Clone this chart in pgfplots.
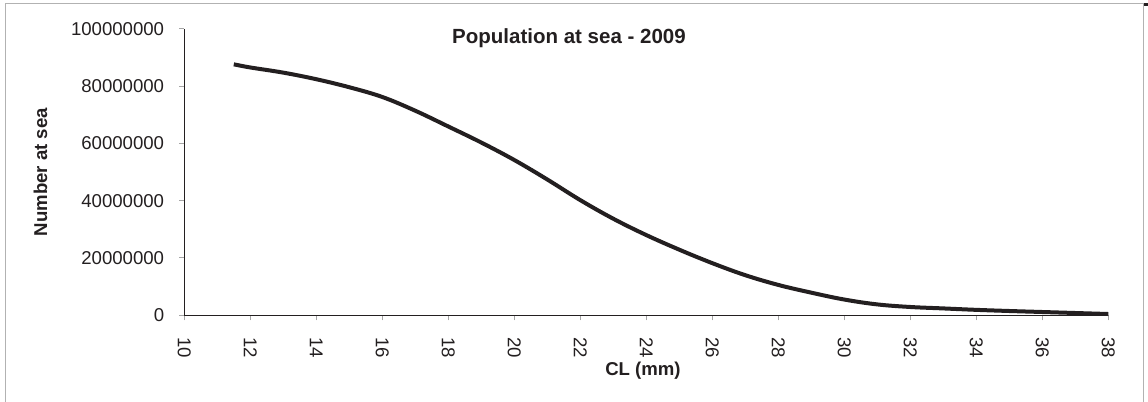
\documentclass[border=0pt]{standalone}
\usepackage{fontspec}
\setmainfont{Liberation Sans}
\usepackage{pgfplots}
\pgfplotsset{compat=1.18}
\definecolor{ink}{RGB}{35,31,32}
\definecolor{framegray}{RGB}{178,178,178}
\definecolor{tickgray}{RGB}{165,165,165}
\begin{document}
\begin{tikzpicture}
\useasboundingbox (0bp,0bp) rectangle (1148bp,402bp);
\draw[framegray, line width=1.2bp] (5.7bp,-5bp) -- (5.7bp,398.7bp) -- (1143.3bp,398.7bp) -- (1143.3bp,-5bp);
\fill[ink] (1144bp,396bp) rectangle (1148bp,398.7bp);
\begin{axis}[
  at={(184.3bp,86.7bp)}, anchor=south west,
  scale only axis, width=924bp, height=286.5bp,
  xmin=10, xmax=38, ymin=0, ymax=100000000,
  axis lines*=left,
  axis line style={ink, line width=1bp},
  xtick={10,12,...,38},
  ytick={0,20000000,40000000,60000000,80000000,100000000},
  scaled y ticks=false,
  tick align=outside,
  major tick length=5bp,
  tick style={tickgray, line width=1bp},
  /pgf/number format/assume math mode=true,
  ticklabel style={font=\fontsize{18.6bp}{22bp}\selectfont, text=ink},
  xticklabel style={rotate=-90, anchor=west, inner sep=0pt},
  yticklabel style={anchor=east, inner sep=0pt, /pgf/number format/fixed, /pgf/number format/precision=0, /pgf/number format/1000 sep={}},
  xticklabel shift=17bp,
  yticklabel shift=15bp,
  every axis x label/.style={at={(axis description cs:0.4964,-0.2084)}, anchor=base, font=\bfseries\fontsize{18.6bp}{22bp}\selectfont, text=ink},
  every axis y label/.style={at={(axis description cs:-0.14859,0.5)}, rotate=90, anchor=base, font=\bfseries\fontsize{18.6bp}{22bp}\selectfont, text=ink},
  every axis title/.style={at={(axis description cs:0.4163,0.9494)}, anchor=base, font=\bfseries\fontsize{20.5bp}{24bp}\selectfont, text=ink},
  xlabel={CL (mm)},
  ylabel={Number at sea},
  title={Population at sea - 2009},
  clip=false,
]
\addplot[ink, line width=4bp, smooth, tension=0.6, line cap=butt] coordinates {
  (11.5,87600000) (12,86500000) (13,84700000) (14,82400000) (15,79600000)
  (16,76200000) (17,71400000) (18,65900000) (19,60300000) (20,54200000)
  (21,47400000) (22,40200000) (23,33700000) (24,28000000) (25,22900000)
  (26,18200000) (27,14000000) (28,10600000) (29,7900000) (30,5500000)
  (31,3800000) (32,2900000) (33,2400000) (34,1900000) (35,1500000)
  (36,1150000) (37,800000) (38,450000)
};
\end{axis}
\end{tikzpicture}
\end{document}
